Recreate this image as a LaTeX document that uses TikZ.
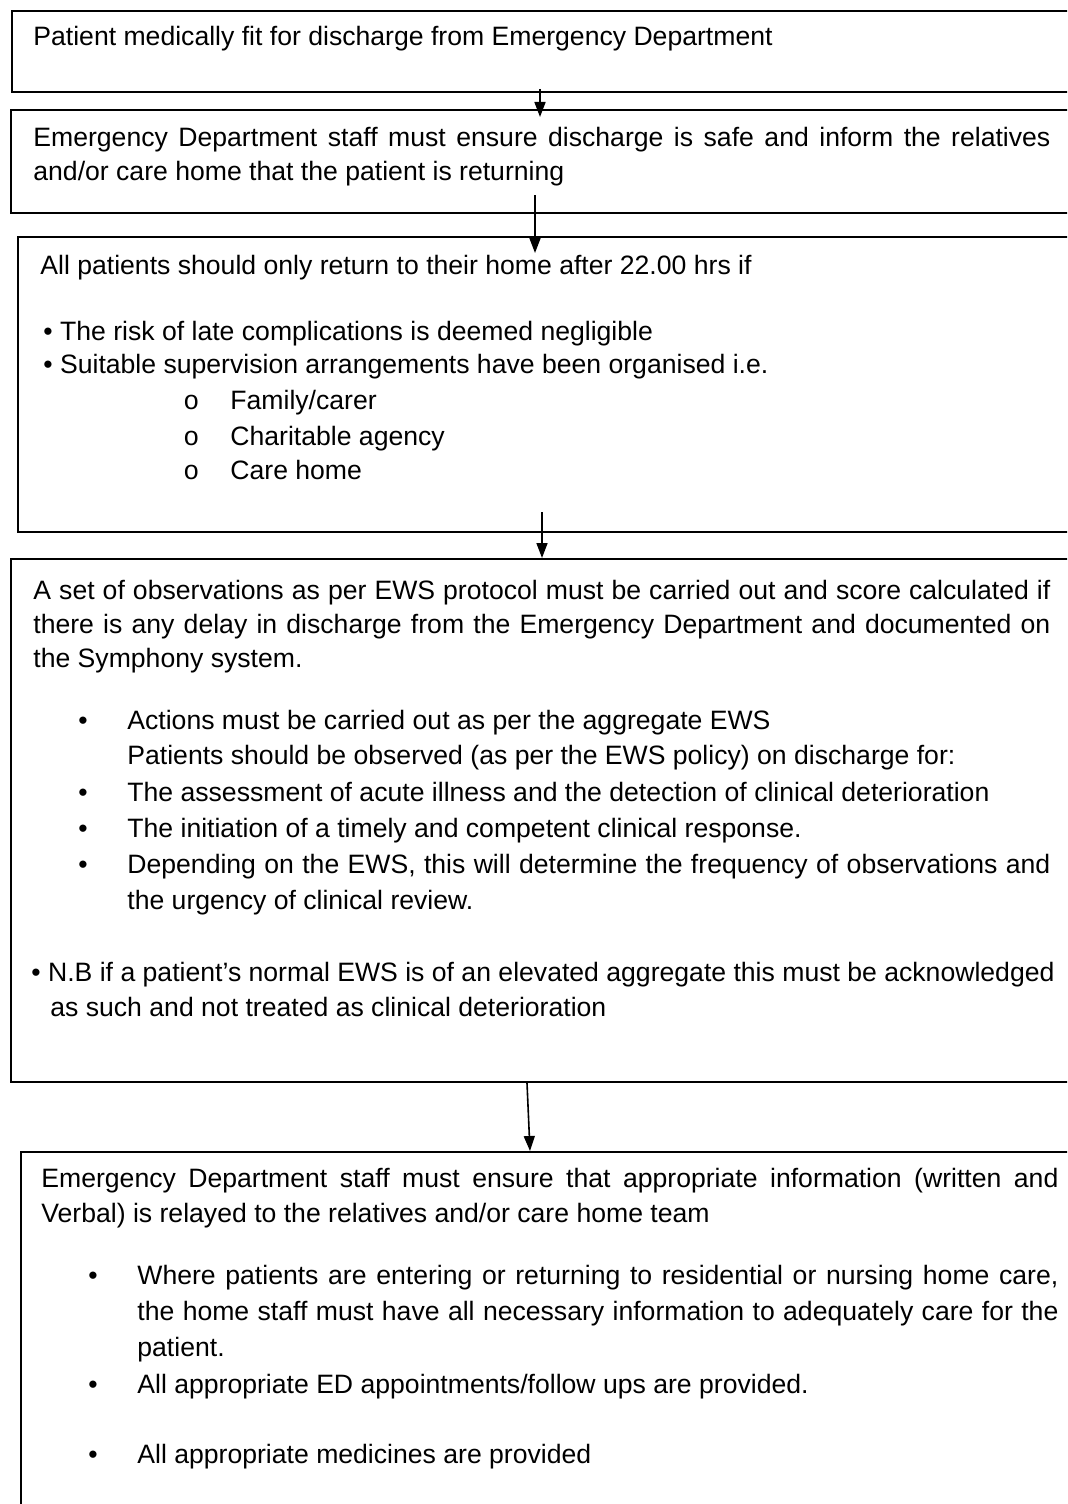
\documentclass[tikz,border=0pt]{standalone}
\usepackage{fontspec}
\setmainfont{Liberation Sans}
\newfontfamily\circfont{Liberation Mono}
\usetikzlibrary{arrows.meta,calc}
\tikzset{
  box/.style={draw=black, line width=1pt, rectangle, anchor=north west,
              inner sep=0pt, minimum width=540pt},
  ln/.style={anchor=base west, inner sep=0pt,
             font=\fontsize{13.3pt}{17pt}\selectfont},
  arr/.style={line width=0.8pt, -{Triangle[length=7.5pt,width=5.5pt]}},
}
% full-width justified line, a bullet slot and a circle slot
\newcommand{\jl}[2]{\makebox[#1][s]{#2}}
\newcommand{\bul}[1]{\makebox[#1][l]{\textbullet}}
\newcommand{\circm}{\makebox[23.5pt][l]{\circfont o}}

\begin{document}
\begin{tikzpicture}[x=0.5pt,y=-0.5pt]
\path[use as bounding box] (0,0) rectangle (1067,1504);
\clip (0,0) rectangle (1067,1504);

% boxes (open to the right and bottom)
\node[box, minimum height=40.5pt]  (b1) at (11,10)   {};
\node[box, minimum height=51.5pt]  (b2) at (10,109)  {};
\node[box, minimum height=147.5pt] (b3) at (17,236)  {};
\node[box, minimum height=261.5pt] (b4) at (10,558)  {};
\node[box, minimum height=190pt]   (b5) at (20,1151) {};

% box 1
\node[ln] (t1) at (33,46) {Patient medically fit for discharge from Emergency Department};

% box 2
\node[ln] (t2a) at (33,147) {\jl{508.5pt}{Emergency Department staff must ensure discharge is safe and inform the relatives}};
\node[ln] (t2b) at (33,180) {and/or care home that the patient is returning};

% box 3
\node[ln] (t3a) at (40,274) {All patients should only return to their home after 22.00 hrs if};
\node[ln] (t3b) at (43,340) {\textbullet\ The risk of late complications is deemed negligible};
\node[ln] (t3c) at (43,373) {\textbullet\ Suitable supervision arrangements have been organised i.e.};
\node[ln] (t3d) at (183,409) {\circm Family/carer};
\node[ln] (t3e) at (183,445) {\circm Charitable agency};
\node[ln] (t3f) at (183,479) {\circm Care home};

% box 4
\node[ln] (t4a) at (33,599) {\jl{508.5pt}{A set of observations as per EWS protocol must be carried out and score calculated if}};
\node[ln] (t4b) at (33,633) {\jl{508.5pt}{there is any delay in discharge from the Emergency Department and documented on}};
\node[ln] (t4c) at (33,667) {the Symphony system.};
\node[ln] (t4d) at (78,729) {\bul{24.5pt}Actions must be carried out as per the aggregate EWS};
\node[ln] (t4e) at (127,764) {Patients should be observed (as per the EWS policy) on discharge for:};
\node[ln] (t4f) at (78,801) {\bul{24.5pt}The assessment of acute illness and the detection of clinical deterioration};
\node[ln] (t4g) at (78,837) {\bul{24.5pt}The initiation of a timely and competent clinical response.};
\node[ln] (t4h) at (78,873) {\bul{24.5pt}\jl{461.5pt}{Depending on the EWS, this will determine the frequency of observations and}};
\node[ln] (t4i) at (127,909) {the urgency of clinical review.};
\node[ln] (t4j) at (31,981) {\textbullet\ N.B if a patient’s normal EWS is of an elevated aggregate this must be acknowledged};
\node[ln] (t4k) at (50,1016) {as such and not treated as clinical deterioration};

% box 5
\node[ln] (t5a) at (41,1187) {\jl{508.5pt}{Emergency Department staff must ensure that appropriate information (written and}};
\node[ln] (t5b) at (41,1222) {Verbal) is relayed to the relatives and/or care home team};
\node[ln] (t5c) at (88,1284) {\bul{24.5pt}\jl{460.5pt}{Where patients are entering or returning to residential or nursing home care,}};
\node[ln] (t5d) at (137,1320) {\jl{460.5pt}{the home staff must have all necessary information to adequately care for the}};
\node[ln] (t5e) at (137,1356) {patient.};
\node[ln] (t5f) at (88,1393) {\bul{24.5pt}All appropriate ED appointments/follow ups are provided.};
\node[ln] (t5g) at (88,1463) {\bul{24.5pt}All appropriate medicines are provided};

% connectors
\draw[arr] ($(b1.south west)+(529,-4)$)  -- ($(b2.north west)+(530,8)$);
\draw[arr] ($(b2.south west)+(525,-19)$) -- ($(b3.north west)+(518,17)$);
\draw[arr] ($(b3.south west)+(525,-21)$) -- ($(b4.north west)+(532,0)$);
\draw[arr] ($(b4.south west)+(517,0)$)   -- ($(b5.north west)+(510,0)$);
\end{tikzpicture}
\end{document}
